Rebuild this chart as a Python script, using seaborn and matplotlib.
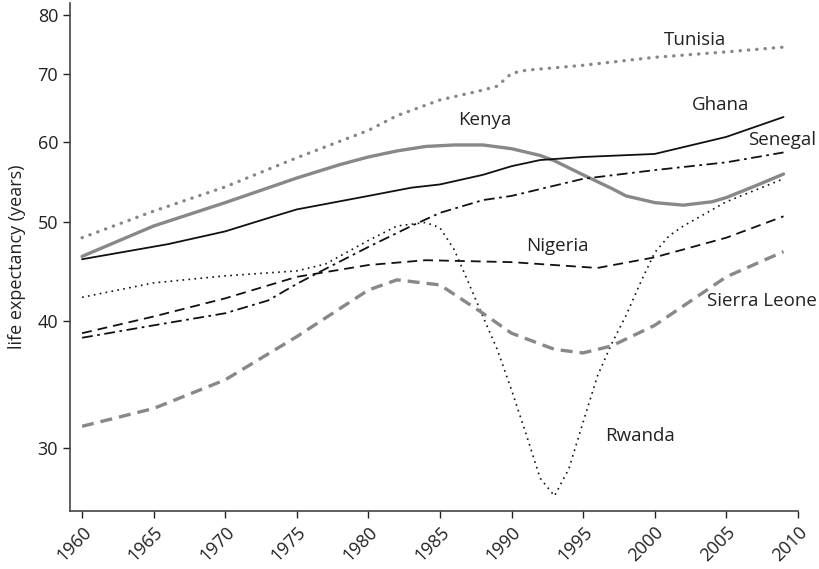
import matplotlib
matplotlib.use("Agg")
import matplotlib.pyplot as plt
from matplotlib.ticker import NullLocator, FixedLocator, FixedFormatter
import seaborn as sns
import pandas as pd

# values (life expectancy, years)
tunisia_years = [1960, 1965, 1970, 1975, 1980, 1982, 1985, 1988, 1989, 1990, 1991, 1995, 2000, 2005, 2009]
tunisia = [48.3, 51.3, 54.2, 57.9, 61.6, 63.7, 66.0, 67.5, 68.1, 70.1, 70.6, 71.4, 72.7, 73.6, 74.4]

kenya_years = [1960, 1965, 1970, 1975, 1978, 1980, 1982, 1984, 1986, 1988, 1990, 1992, 1993, 1995,
               1997, 1998, 2000, 2002, 2004, 2005, 2007, 2009]
kenya = [46.3, 49.6, 52.3, 55.3, 57.0, 58.0, 58.8, 59.4, 59.6, 59.6, 59.1, 58.2, 57.5, 55.7,
         54.0, 53.1, 52.3, 52.0, 52.4, 52.9, 54.3, 55.8]

ghana_years = [1960, 1966, 1970, 1973, 1975, 1980, 1983, 1985, 1988, 1990, 1992, 1995, 2000, 2005, 2009]
ghana = [46.0, 47.6, 49.0, 50.5, 51.5, 53.1, 54.1, 54.5, 55.7, 56.8, 57.6, 58.0, 58.4, 60.7, 63.5]

senegal_years = [1960, 1965, 1970, 1973, 1975, 1977, 1980, 1983, 1985, 1988, 1990, 1995, 2000, 2005, 2009]
senegal = [38.5, 39.6, 40.7, 41.9, 43.5, 45.0, 47.3, 49.6, 51.1, 52.6, 53.1, 55.2, 56.3, 57.3, 58.6]

nigeria_years = [1960, 1965, 1970, 1975, 1980, 1984, 1990, 1996, 2000, 2005, 2009]
nigeria = [38.9, 40.4, 42.1, 44.2, 45.4, 45.9, 45.7, 45.1, 46.2, 48.3, 50.7]

rwanda_years = [1960, 1965, 1970, 1975, 1977, 1980, 1982, 1984, 1985, 1986, 1987, 1988, 1989, 1990,
                1991, 1992, 1993, 1994, 1995, 1996, 1997, 1998, 1999, 2000, 2001, 2002, 2005, 2009]
rwanda = [42.2, 43.6, 44.3, 44.8, 45.5, 48.0, 49.6, 50.0, 49.4, 47.0, 43.6, 40.4, 37.5, 34.2,
          31.0, 28.0, 26.9, 28.6, 31.8, 35.3, 38.0, 40.5, 43.6, 46.7, 48.5, 49.6, 52.4, 55.2]

sierra_years = [1960, 1965, 1970, 1975, 1980, 1982, 1985, 1988, 1990, 1993, 1995, 1997, 2000, 2005, 2009]
sierra = [31.5, 32.8, 35.0, 38.6, 42.9, 43.9, 43.4, 40.7, 38.9, 37.5, 37.2, 37.8, 39.6, 44.2, 46.8]

y_ticks = [30, 40, 50, 60, 70, 80]
x_ticks = list(range(1960, 2011, 5))

grey = "#888888"
ink = "#111111"
series = [
    ("Tunisia", tunisia_years, tunisia, dict(color=grey, lw=2.4, linestyle=(0, (0.1, 2.4)), dash_capstyle="round")),
    ("Kenya", kenya_years, kenya, dict(color=grey, lw=2.4, linestyle="-")),
    ("Ghana", ghana_years, ghana, dict(color=ink, lw=1.3, linestyle="-")),
    ("Senegal", senegal_years, senegal, dict(color=ink, lw=1.3, linestyle=(0, (6, 2.5, 1.5, 2.5)))),
    ("Nigeria", nigeria_years, nigeria, dict(color=ink, lw=1.3, linestyle=(0, (5.5, 3.3)))),
    ("Rwanda", rwanda_years, rwanda, dict(color=ink, lw=1.2, linestyle=(0, (1, 2.6)))),
    ("Sierra Leone", sierra_years, sierra, dict(color=grey, lw=2.4, linestyle=(0, (3.6, 2.1)))),
]

# label positions (year, value)
labels = {
    "Tunisia": (2002.8, 75.6),
    "Kenya": (1988.1, 63.1),
    "Ghana": (2004.6, 65.2),
    "Senegal": (2008.9, 60.3),
    "Nigeria": (1993.2, 47.4),
    "Sierra Leone": (2007.5, 41.8),
    "Rwanda": (1999.0, 30.8),
}

sns.set_style("ticks")
plt.rcParams["font.family"] = ["Open Sans", "DejaVu Sans"]

fig = plt.figure(figsize=(8.2, 5.69), dpi=100)
ax = fig.add_axes([0.0854, 0.102, 0.8876, 0.8925])

for name, yrs, vals, st in series:
    df = pd.DataFrame({"year": yrs, "life": vals})
    sns.lineplot(data=df, x="year", y="life", ax=ax, **st)
    lx, ly = labels[name]
    ax.text(lx, ly, name, ha="center", va="center", fontsize=13.5, color="#222222")

ax.set_yscale("log")
ax.set_ylim(26.0, 82.2)
ax.set_xlim(1959.16, 2010)
ax.yaxis.set_major_locator(FixedLocator(y_ticks))
ax.yaxis.set_major_formatter(FixedFormatter([str(t) for t in y_ticks]))
ax.yaxis.set_minor_locator(NullLocator())
ax.set_xticks(x_ticks)
ax.set_xticklabels([str(t) for t in x_ticks], rotation=45, ha="right", rotation_mode="anchor")

ax.set_xlabel("")
ax.set_ylabel("life expectancy (years)", fontsize=13, color="#222222", labelpad=8)
ax.tick_params(axis="both", labelsize=13, colors="#222222", length=5, width=1)
for s in ["left", "bottom"]:
    ax.spines[s].set_color("#444444")
    ax.spines[s].set_linewidth(1.2)
sns.despine(ax=ax)

fig.savefig("out.png", dpi=100)
